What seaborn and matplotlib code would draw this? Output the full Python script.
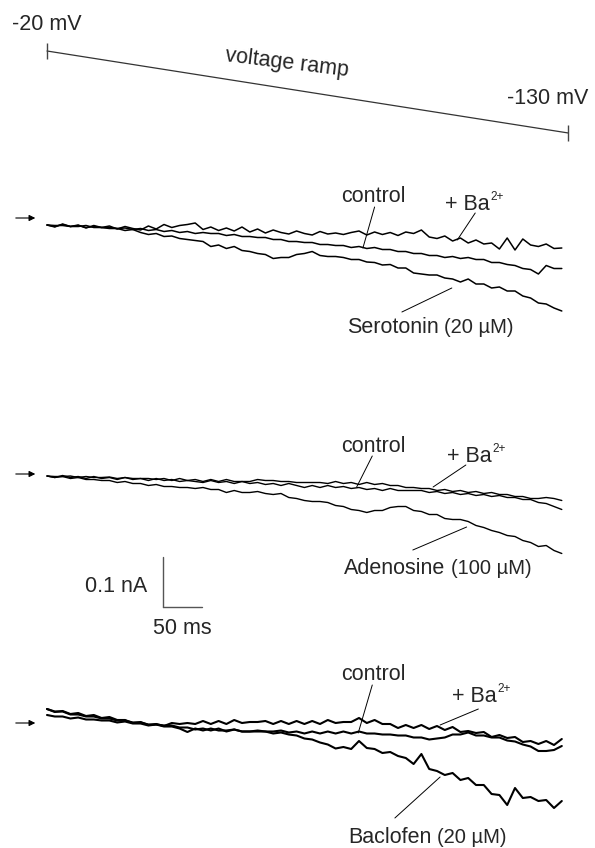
import matplotlib
matplotlib.use("Agg")
import matplotlib.pyplot as plt
from matplotlib.transforms import offset_copy
import numpy as np
import pandas as pd
import seaborn as sns

# ---------------- data ----------------
# time axis of the recorded traces (ms) and voltage ramp
t_ms = list(range(0, 661, 10))
ramp_t = [0, 668]          # ms
ramp_mv = [-20, -130]      # mV

# currents in pA, relative to the zero-current level (arrow)
p1_ba = [-14,-18,-12,-17,-14,-20,-15,-19,-16,-22, -17,-21,-24,-16,-22,-13,-19,-15,-13,-10,
         -23,-18,-25,-20,-26,-18,-28,-22,-30,-24, -29,-32,-26,-31,-34,-27,-32,-30,-33,-29,
         -26,-34,-28,-33,-29,-35,-28,-31,-24,-38, -41,-36,-46,-40,-50,-44,-52,-50,-62,-40,
         -64,-42,-54,-57,-52,-61,-60]
p1_control = [-14,-15,-15,-17,-15,-19,-17,-19,-19,-21, -20,-23,-21,-25,-23,-27,-25,-29,-27,-31,
              -29,-31,-31,-35,-33,-37,-37,-39,-39,-43, -43,-47,-47,-49,-49,-53,-53,-55,-55,-59,
              -57,-61,-59,-63,-63,-67,-67,-71,-71,-75, -75,-79,-77,-81,-79,-83,-83,-89,-89,-93,
              -95,-101,-103,-112,-95,-101,-101]
p1_serotonin = [-14,-17,-13,-17,-17,-15,-19,-19,-21,-21, -25,-23,-29,-33,-31,-37,-36,-41,-43,-45,
                -47,-57,-54,-61,-57,-65,-67,-71,-73,-81, -79,-79,-73,-71,-67,-75,-77,-77,-79,-83,
                -83,-88,-89,-94,-93,-100,-100,-110,-112,-114, -114,-120,-122,-128,-122,-132,-132,-140,-138,-146,
                -146,-156,-160,-170,-172,-180,-186]

p2_ba = [-4,-5,-5,-4,-7,-5,-7,-7,-6,-9, -7,-9,-9,-9,-11,-9,-13,-9,-13,-11,
         -15,-11,-15,-11,-15,-15,-15,-11,-13,-13, -15,-15,-17,-17,-17,-17,-19,-15,-19,-17,
         -21,-17,-21,-19,-23,-23,-27,-27,-29,-29, -33,-31,-35,-33,-37,-35,-39,-37,-41,-41,
         -45,-45,-49,-49,-47,-49,-53]
p2_control = [-4,-7,-3,-7,-5,-9,-5,-9,-7,-11, -7,-11,-9,-13,-9,-13,-11,-15,-13,-15,
              -17,-13,-17,-15,-19,-15,-19,-17,-21,-19, -23,-19,-23,
              -27,-23,-27,-23,-27,-25,-29,-27,-31,-29, -33,-29,-33,-33,-33,-33,-37,-35,-39,-37,
              -41,-39,-43,-41,-45,-43,-47,-47,-51,-51, -57,-59,-65,-71]
p2_adenosine = [-4,-7,-5,-9,-7,-11,-11,-13,-13,-17, -15,-19,-19,-23,-21,-25,-25,-27,-27,-29,
                -27,-31,-31,-37,-33,-37,-37,-35,-39,-41, -39,-47,-49,-53,-55,-55,-57,-63,-65,-71,
                -73,-77,-73,-73,-67,-65,-65,-73,-75,-81, -81,-89,-91,-91,-95,-103,-107,-113,-117,-123,
                -125,-133,-137,-145,-143,-153,-159]

p3_ba = [28,22,24,18,20,14,16,10,12,6, 6,0,2,-4,-2,-6,0,-2,0,-2,
         4,-2,4,-2,6,0,2,2,4,-2, 4,-2,4,-2,4,-2,6,0,2,2,
         10,0,6,-2,-2,-10,-4,-10,-4,-12, -6,-14,-8,-18,-16,-20,-18,-28,-24,-30,
         -28,-38,-36,-42,-36,-44,-32]
p3_control = [16,13,13,9,11,7,7,5,5,1, 3,-1,-1,-5,-3,-7,-7,-11,-18,-11,
              -15,-11,-15,-15,-13,-17,-17,-15,-17,-17, -15,-19,-17,-21,-17,-21,-17,-21,-17,-21,
              -17,-21,-21,-23,-23,-25,-25,-29,-29,-33, -31,-29,-23,-23,-19,-25,-25,-29,-29,-35,
              -37,-43,-47,-56,-56,-54,-46]
p3_baclofen = [28,23,23,17,17,13,13,9,9,5, 5,1,1,-3,-3,-5,-5,-9,-9,-13,
               -11,-15,-11,-17,-13,-17,-17,-17,-17,-21, -19,-23,-25,-31,-33,-39,-43,-51,-48,-52,
               -36,-50,-52,-60,-58,-66,-70,-82,-62,-92, -96,-104,-100,-114,-110,-124,-124,-142,-144,-164,
               -130,-150,-148,-156,-154,-170,-156]

scale_ms = 50
scale_pa = 100

# ---------------- style ----------------
sns.set_style("white")
plt.rcParams["font.family"] = ["Liberation Sans", "DejaVu Sans"]

W, H = 595, 848
fig = plt.figure(figsize=(W / 100, H / 100), dpi=100)
fig.patch.set_facecolor("white")
renderer = fig.canvas.get_renderer()

T0_PX = 47.0
PX_PER_MS = 0.78
PX_PER_PA = 0.5
FS = 15.5
FS_SMALL = 14.5


def make_ax(top_px, bot_px, zero_px, px_per_unit=PX_PER_PA):
    ax = fig.add_axes([0, 1 - bot_px / H, 1, (bot_px - top_px) / H])
    ax.set_xlim(-T0_PX / PX_PER_MS, (W - T0_PX) / PX_PER_MS)
    ax.set_ylim(-(bot_px - zero_px) / px_per_unit, (zero_px - top_px) / px_per_unit)
    ax.axis("off")
    return ax


def compose(ax, x, y, pieces, ha="center"):
    """pieces: (text, fontsize, rise_px, gap_px_before). y = centre of capitals."""
    widths = []
    for s, fs, rise, gap in pieces:
        tmp = ax.text(x, y, s, fontsize=fs)
        widths.append(tmp.get_window_extent(renderer).width)
        tmp.remove()
    total = sum(widths) + sum(p[3] for p in pieces)
    off = -total / 2 if ha == "center" else 0.0
    drop = 0.36 * FS * 100 / 72
    for (s, fs, rise, gap), w in zip(pieces, widths):
        off += gap
        tr = offset_copy(ax.transData, fig=fig, x=off, y=-drop + rise, units="dots")
        ax.text(x, y, s, fontsize=fs, transform=tr, ha="left", va="baseline")
        off += w


# ---------------- voltage ramp ----------------
PX_PER_MV = 0.745
ax0 = fig.add_axes([0, 1 - 160 / H, 1, 160 / H])
ax0.set_xlim(-T0_PX / PX_PER_MS, (W - T0_PX) / PX_PER_MS)
ax0.set_ylim(-20 - (160 - 51) / PX_PER_MV, -20 + 51 / PX_PER_MV)
ax0.axis("off")
ramp_df = pd.DataFrame({"t": ramp_t, "V": ramp_mv})
sns.lineplot(data=ramp_df, x="t", y="V", ax=ax0, color="#333333", lw=0.9)
ax0.plot(ramp_t, ramp_mv, ls="none", marker="|", ms=11, mew=1.0, color="#444444")
ax0.text(ramp_t[0], ramp_mv[0] + 35, "-20 mV", ha="center", va="center", fontsize=FS)
ax0.text(ramp_t[1] - 26, ramp_mv[0] - 64, "-130 mV", ha="center", va="center", fontsize=FS)
ax0.text(308, -36, "voltage ramp", ha="center", va="center", fontsize=FS, rotation=-7)


def draw_panel(ax, traces, labels, lw):
    rows = []
    for name, vals in traces.items():
        for t, v in zip(t_ms, vals):
            rows.append((t, v, name))
    df = pd.DataFrame(rows, columns=["t", "I", "cond"])
    sns.lineplot(data=df, x="t", y="I", units="cond", estimator=None,
                 color="black", lw=lw, ax=ax, legend=False)
    # zero-current arrow
    ax.annotate("", xy=(-15, 0), xytext=(-40, 0),
                arrowprops=dict(arrowstyle="-|>", color="black", lw=0.8,
                                mutation_scale=9, shrinkA=0, shrinkB=0))
    (c_pos, c_lead), (b_pos, b_lead), (d_txt, d_pos, d_lead) = labels
    ax.text(c_pos[0], c_pos[1], "control", ha="center", va="center", fontsize=FS)
    compose(ax, b_pos[0], b_pos[1], [("+ Ba", FS, 0, 0), ("2+", 8.5, 10, 1)], ha="left")
    name, conc = d_txt
    compose(ax, d_pos[0], d_pos[1], [(name, FS, 0, 0), (conc, FS_SMALL, 0, 5)], ha="center")
    for lead in (c_lead, b_lead, d_lead):
        ax.plot([lead[0][0], lead[1][0]], [lead[0][1], lead[1][1]], color="black", lw=0.7)


# panel 1
ax1 = make_ax(160, 345, 218)
draw_panel(ax1, {"control": p1_control, "ba": p1_ba, "serotonin": p1_serotonin},
           [((418, 42), ((420, 22), (405, -60))),
            ((510, 32), ((549, 10), (526, -44))),
            (("Serotonin", "(20 µM)"), (491, -214), ((455, -188), (519, -140)))],
           lw=1.1)

# panel 2
ax2 = make_ax(345, 655, 474)
draw_panel(ax2, {"control": p2_control, "ba": p2_ba, "adenosine": p2_adenosine},
           [((418, 56), ((417, 36), (397, -26))),
            ((513, 40), ((537, 18), (495, -26))),
            (("Adenosine", "(100 µM)"), (501, -184), ((469, -152), (538, -106)))],
           lw=1.0)
# scale bar
sb_t = 148.7
sb_i = -266
ax2.plot([sb_t, sb_t], [sb_i + scale_pa, sb_i], color="#555555", lw=1.0)
ax2.plot([sb_t, sb_t + scale_ms], [sb_i, sb_i], color="#555555", lw=1.0)
ax2.text(128, -224, "0.1 nA", ha="right", va="center", fontsize=FS)
ax2.text(173, -308, "50 ms", ha="center", va="center", fontsize=FS)

# panel 3
ax3 = make_ax(655, 848, 723)
draw_panel(ax3, {"control": p3_control, "ba": p3_ba, "baclofen": p3_baclofen},
           [((418, 96), ((417, 76), (399, -20))),
            ((519, 58), ((553, 28), (504, -4))),
            (("Baclofen", "(20 µM)"), (488, -224), ((446, -190), (504, -108)))],
           lw=1.5)

fig.savefig("out.png", dpi=100, facecolor="white")
